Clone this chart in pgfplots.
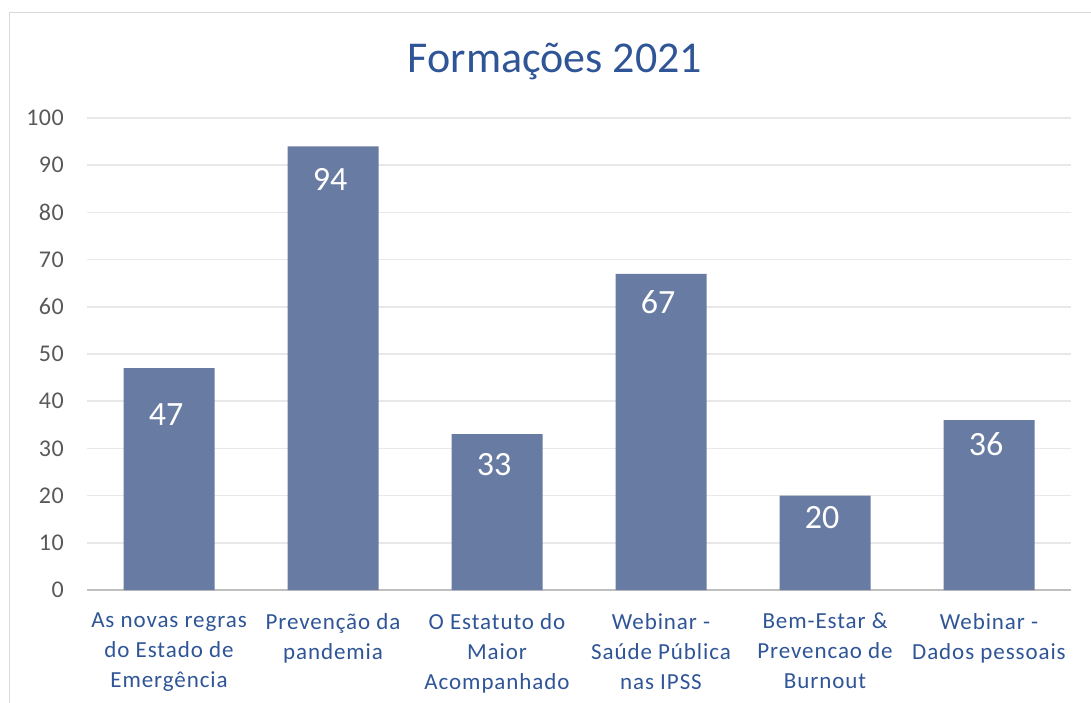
\documentclass[border=0pt]{standalone}
\usepackage{pgfplots}
\pgfplotsset{compat=1.18}
\usepackage{fontspec}
\setmainfont{Carlito}
\definecolor{barc}{RGB}{104,123,162}
\definecolor{titc}{RGB}{47,85,151}
\definecolor{tickc}{RGB}{89,89,89}
\definecolor{gridc}{RGB}{232,232,232}
\definecolor{axc}{RGB}{191,191,191}
\definecolor{framec}{RGB}{217,217,217}
\begin{document}
\begin{tikzpicture}[x=1pt,y=1pt]
\useasboundingbox (0,0) rectangle (1091,702);
\draw[color=framec, line width=1.5pt] (9.5,-20) -- (9.5,689.5) -- (1120,689.5);
\node[anchor=base, text=titc, font=\fontsize{44}{50}\selectfont, inner sep=0] at (555,629) {Formações 2021};
\begin{axis}[
  at={(87pt,112pt)}, anchor=south west, scale only axis,
  width=984pt, height=472pt,
  xmin=-0.5, xmax=5.5, ymin=0, ymax=100,
  ytick={0,10,...,100}, xtick={0,...,5},
  xticklabels={{As novas regras\\do Estado de\\Emergência},{Prevenção da\\pandemia},{O Estatuto do\\Maior\\Acompanhado},{Webinar -\\Saúde Pública\\nas IPSS},{Bem-Estar \&\\Prevencao de\\Burnout},{Webinar -\\Dados pessoais}},
  axis lines=left,
  axis line style={-},
  y axis line style={draw=none},
  x axis line style={draw=axc, line width=2.5pt},
  major tick length=0pt,
  ymajorgrids,
  major grid style={draw=gridc, line width=1.5pt},
  /pgf/number format/assume math mode=true,
  yticklabel style={inner sep=0pt, xshift=-23pt, text=tickc, font=\fontsize{24}{28}\selectfont\addfontfeatures{LetterSpace=2}},
  xticklabel style={inner sep=0pt, anchor=north, yshift=-23pt, align=center, text=titc, font=\fontsize{23}{30}\selectfont\addfontfeatures{LetterSpace=4}},
  clip=false,
]
\addplot[ybar, bar width=91pt, fill=barc, draw=none,
  nodes near coords,
  visualization depends on={value \thisrow{off} \as \off},
  every node near coord/.append style={anchor=north, inner sep=0pt, yshift=-\off pt, xshift=-3pt, text=white, font=\fontsize{34}{40}\selectfont}]
  table {
x y off
0 47 35
1 94 22
2 33 19
3 67 17
4 20 11
5 36 12
};
\end{axis}
\end{tikzpicture}
\end{document}
